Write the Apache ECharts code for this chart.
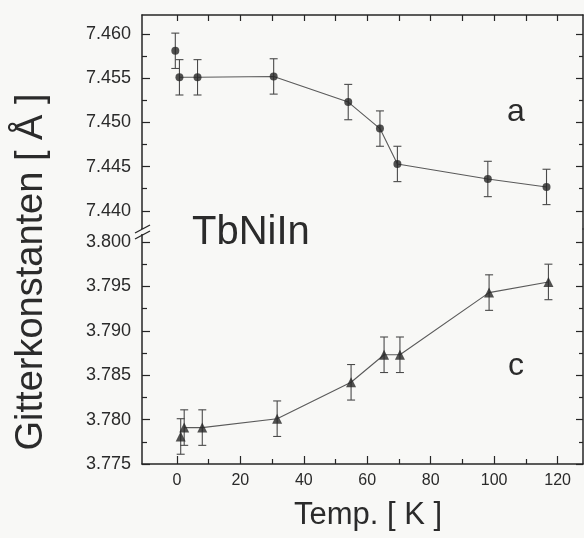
<!DOCTYPE html>
<html><head><meta charset="utf-8">
<script src="https://cdn.jsdelivr.net/npm/echarts@6/dist/echarts.min.js"></script>
<style>html,body{margin:0;padding:0;background:#f8f8f6}#c{width:584px;height:538px}</style>
</head><body><div id="c"></div>
<script>
// ---- data ----
const tempA   = [-0.5, 0.8, 6.5, 30.5, 54.0, 64.0, 69.5, 98.0, 116.5];
const aValues = [7.4581, 7.4551, 7.4551, 7.4552, 7.4523, 7.4493, 7.4453, 7.4436, 7.4427];
const aErr    = [0.002, 0.002, 0.002, 0.002, 0.002, 0.002, 0.002, 0.002, 0.002];
const tempC   = [1.2, 2.3, 8.0, 31.6, 54.9, 65.3, 70.3, 98.4, 117.1];
const cValues = [3.7781, 3.7791, 3.7791, 3.7801, 3.7842, 3.7873, 3.7873, 3.7943, 3.7955];
const cErr    = [0.002, 0.002, 0.002, 0.002, 0.002, 0.002, 0.002, 0.002, 0.002];
const xTickLabels = [0, 20, 40, 60, 80, 100, 120];
const xMinorTicks = [10, 30, 50, 70, 90, 110];
const xTopTicks   = [0, 10, 20, 30, 40, 50, 60, 70, 80, 90, 100, 110, 120];
const aTickLabels = [7.440, 7.445, 7.450, 7.455, 7.460];
const aMinorTicks = [7.4425, 7.4475, 7.4525, 7.4575];
const cTickLabels = [3.775, 3.780, 3.785, 3.790, 3.795, 3.800];
const cMinorTicks = [3.7775, 3.7825, 3.7875, 3.7925, 3.7975];
const titleText = 'TbNiIn';
const yName = 'Gitterkonstanten [ Å ]';
const xName = 'Temp. [ K ]';

const FONT = '"Liberation Sans", Arial, Helvetica, sans-serif';
const INK = '#262626';
const X_MIN = -11, X_MAX = 128;

function xAx(grid, pos, opts) {
  return Object.assign({
    type: 'value', gridIndex: grid, position: pos, min: X_MIN, max: X_MAX,
    splitLine: {show: false},
    axisLine: {show: false, onZero: false},
    axisTick: {show: false},
    axisLabel: {show: false}
  }, opts);
}
function yAx(grid, pos, min, max, opts) {
  return Object.assign({
    type: 'value', gridIndex: grid, position: pos, min: min, max: max,
    splitLine: {show: false},
    axisLine: {show: false, onZero: false},
    axisTick: {show: false},
    axisLabel: {show: false}
  }, opts);
}
const tick = (vals, len) => ({show: true, inside: true, length: len, customValues: vals, lineStyle: {color: INK, width: 1.2}});
const line = {show: true, onZero: false, lineStyle: {color: INK, width: 1.5}};

const A_MIN = 7.43794, A_MAX = 7.46215;
const C_MIN = 3.775, C_MAX = 3.80146;

const xAxis = [
  xAx(0, 'top', {axisLine: line, axisTick: tick(xTopTicks, 6)}),
  xAx(1, 'bottom', {axisLine: line, axisTick: tick(xTickLabels, 8),
    axisLabel: {show: true, customValues: xTickLabels, margin: 9, color: '#2a2a2a', fontSize: 16, fontFamily: FONT}}),
  xAx(1, 'bottom', {axisTick: tick(xMinorTicks, 5)})
];
const yAxis = [
  yAx(0, 'left', A_MIN, A_MAX, {axisLine: line, axisTick: tick(aTickLabels, 8),
    axisLabel: {show: true, customValues: aTickLabels, margin: 11, color: '#2a2a2a', fontSize: 18, fontFamily: FONT, formatter: v => v.toFixed(3)}}),
  yAx(0, 'left', A_MIN, A_MAX, {axisTick: tick(aMinorTicks, 5)}),
  yAx(0, 'right', A_MIN, A_MAX, {axisLine: line, axisTick: tick(aTickLabels, 7)}),
  yAx(0, 'right', A_MIN, A_MAX, {axisTick: tick(aMinorTicks, 4)}),
  yAx(1, 'left', C_MIN, C_MAX, {axisLine: line, axisTick: tick(cTickLabels, 8),
    axisLabel: {show: true, customValues: cTickLabels, margin: 11, color: '#2a2a2a', fontSize: 18, fontFamily: FONT, formatter: v => v.toFixed(3)}}),
  yAx(1, 'left', C_MIN, C_MAX, {axisTick: tick(cMinorTicks, 5)}),
  yAx(1, 'right', C_MIN, C_MAX, {axisLine: line, axisTick: tick(cTickLabels, 7)}),
  yAx(1, 'right', C_MIN, C_MAX, {axisTick: tick(cMinorTicks, 4)})
];

function errBars(xs, ys, es, xi, yi) {
  return {
    type: 'custom', xAxisIndex: xi, yAxisIndex: yi, z: 3, silent: true,
    data: xs.map((t, i) => [t, ys[i], es[i]]),
    encode: {x: 0, y: 1},
    renderItem: function (params, api) {
      const x = api.value(0), y = api.value(1), e = api.value(2);
      const top = api.coord([x, y + e]);
      const bot = api.coord([x, y - e]);
      const hw = 4;
      const st = {stroke: '#4a4a4a', lineWidth: 1.1};
      return {type: 'group', children: [
        {type: 'line', shape: {x1: top[0], y1: top[1], x2: bot[0], y2: bot[1]}, style: st},
        {type: 'line', shape: {x1: top[0] - hw, y1: top[1], x2: top[0] + hw, y2: top[1]}, style: st},
        {type: 'line', shape: {x1: bot[0] - hw, y1: bot[1], x2: bot[0] + hw, y2: bot[1]}, style: st}
      ]};
    }
  };
}
const pairs = (xs, ys) => xs.map((t, i) => [t, ys[i]]);

const series = [
  errBars(tempA, aValues, aErr, 0, 0),
  {type: 'line', xAxisIndex: 0, yAxisIndex: 0, data: pairs(tempA, aValues).slice(1), showSymbol: false,
   lineStyle: {color: '#5a5a5a', width: 1.1}, z: 2, silent: true},
  {type: 'scatter', xAxisIndex: 0, yAxisIndex: 0, data: pairs(tempA, aValues), symbol: 'circle', symbolSize: 8,
   itemStyle: {color: '#262626'}, z: 4, silent: true},
  errBars(tempC, cValues, cErr, 1, 4),
  {type: 'line', xAxisIndex: 1, yAxisIndex: 4, data: pairs(tempC, cValues).slice(1), showSymbol: false,
   lineStyle: {color: '#5a5a5a', width: 1.1}, z: 2, silent: true},
  {type: 'scatter', xAxisIndex: 1, yAxisIndex: 4, data: pairs(tempC, cValues), symbol: 'triangle', symbolSize: 10,
   itemStyle: {color: '#262626'}, z: 4, silent: true}
];

const chart = echarts.init(document.getElementById('c'), null, {renderer: 'canvas'});
chart.setOption({
  backgroundColor: '#f8f8f6',
  animation: false,
  grid: [
    {left: 142, right: 1, top: 15, height: 214},
    {left: 142, right: 1, top: 229, height: 235}
  ],
  xAxis: xAxis,
  yAxis: yAxis,
  series: series,
  graphic: [
    {type: 'rect', left: 136, top: 229, shape: {width: 12, height: 5}, style: {fill: '#f8f8f6'}, z: 50},
    {type: 'line', shape: {x1: 135, y1: 233, x2: 150, y2: 225}, style: {stroke: INK, lineWidth: 1.3}, z: 51},
    {type: 'line', shape: {x1: 135, y1: 239, x2: 150, y2: 231}, style: {stroke: INK, lineWidth: 1.3}, z: 51},
    {type: 'text', x: 192, y: 233, z: 60, style: {text: titleText, textAlign: 'left', textVerticalAlign: 'middle', font: '40px ' + FONT, fill: '#2b2b2b'}},
    {type: 'text', x: 516, y: 112, z: 60, style: {text: 'a', textAlign: 'center', textVerticalAlign: 'middle', font: '32px ' + FONT, fill: '#2b2b2b'}},
    {type: 'text', x: 516, y: 366, z: 60, style: {text: 'c', textAlign: 'center', textVerticalAlign: 'middle', font: '32px ' + FONT, fill: '#2b2b2b'}},
    {type: 'text', x: 368, y: 515, z: 60, style: {text: xName, textAlign: 'center', textVerticalAlign: 'middle', font: '31px ' + FONT, fill: '#2b2b2b'}},
    {type: 'text', x: 32, y: 272, rotation: Math.PI / 2, z: 60, style: {text: yName, textAlign: 'center', textVerticalAlign: 'middle', font: '38px ' + FONT, fill: '#2b2b2b'}}
  ]
});
</script>
</body></html>
